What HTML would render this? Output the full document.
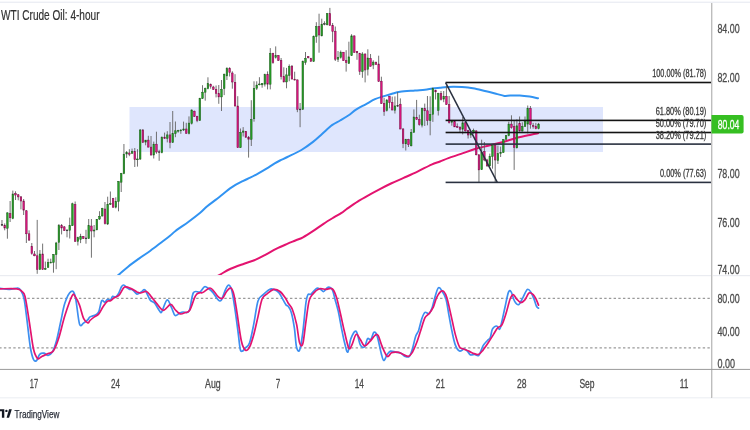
<!DOCTYPE html><html><head><meta charset="utf-8"><style>html,body{margin:0;padding:0;background:#fff;width:750px;height:430px;overflow:hidden}svg{display:block;will-change:transform}text{font-family:"Liberation Sans",sans-serif}</style></head><body>
<svg width="750" height="430" viewBox="0 0 750 430">
<rect width="750" height="430" fill="#fff"/>
<defs><clipPath id="cm"><rect x="0" y="3" width="711" height="272"/></clipPath><clipPath id="cs"><rect x="0" y="276" width="711" height="93"/></clipPath></defs>
<rect x="0" y="1.6" width="750" height="1.4" fill="#eceef4"/>
<rect x="0" y="275.1" width="750" height="1.1" fill="#e8eaf0"/>
<rect x="0" y="397.2" width="750" height="1.2" fill="#eef0f4"/>
<rect x="129.5" y="107" width="473.5" height="45" fill="#dfe6fd"/>
<line x1="-0.8" y1="298.4" x2="711" y2="298.4" stroke="#9a9a9a" stroke-width="1.1" stroke-dasharray="2.4 2.29"/>
<line x1="-0.8" y1="347.9" x2="711" y2="347.9" stroke="#9a9a9a" stroke-width="1.1" stroke-dasharray="2.4 2.29"/>
<g clip-path="url(#cm)">
<path d="M110 282 C111.4 280.85 115.38 277.65 118.4 275.1 C121.42 272.55 124.62 269.48 128.1 266.7 C131.58 263.92 135.58 261.07 139.3 258.4 C143.02 255.73 146.68 253.4 150.4 250.7 C154.12 248 158.33 244.68 161.6 242.2 C164.87 239.72 167.68 237.67 170 235.8 C172.32 233.93 172.4 233.35 175.5 231 C178.6 228.65 184.53 224.7 188.6 221.7 C192.67 218.7 196.85 215.53 199.9 213 C202.95 210.47 204.28 208.68 206.9 206.5 C209.52 204.32 213.42 201.57 215.6 199.9 C217.78 198.23 217.33 198.58 220 196.5 C222.67 194.42 227.72 190.02 231.6 187.4 C235.48 184.78 240.2 182.42 243.3 180.8 C246.4 179.18 247.68 178.95 250.2 177.7 C252.72 176.45 255.68 174.82 258.4 173.3 C261.12 171.78 263.78 170.25 266.5 168.6 C269.22 166.95 272.45 164.75 274.7 163.4 C276.95 162.05 277.88 161.57 280 160.5 C282.12 159.43 283.83 158.75 287.4 157 C290.97 155.25 297.13 152.52 301.4 150 C305.67 147.48 309.52 144.62 313 141.9 C316.48 139.18 319.13 136.5 322.3 133.7 C325.47 130.9 329.03 127.3 332 125.1 C334.97 122.9 337.38 122.1 340.1 120.5 C342.82 118.9 345.58 117.35 348.3 115.5 C351.02 113.65 353.5 111.27 356.4 109.4 C359.3 107.53 362.6 106 365.7 104.3 C368.8 102.6 371.78 100.6 375 99.2 C378.22 97.8 382.17 96.8 385 95.9 C387.83 95 389.5 94.48 392 93.8 C394.5 93.12 396.17 92.35 400 91.8 C403.83 91.25 410.83 90.85 415 90.5 C419.17 90.15 422.1 90.02 425 89.7 C427.9 89.38 429.9 88.92 432.4 88.6 C434.9 88.28 437.57 88.05 440 87.8 C442.43 87.55 444.67 87.27 447 87.1 C449.33 86.93 450.5 86.75 454 86.8 C457.5 86.85 464.27 87.05 468 87.4 C471.73 87.75 473.37 88.25 476.4 88.9 C479.43 89.55 482.93 90.5 486.2 91.3 C489.47 92.1 492.97 92.93 496 93.7 C499.03 94.47 502.07 95.58 504.4 95.9 C506.73 96.22 507.43 95.67 510 95.6 C512.57 95.53 516.53 95.33 519.8 95.5 C523.07 95.67 526.57 96.13 529.6 96.6 C532.63 97.07 536.6 98.02 538 98.3" stroke="#3193f2" stroke-width="2.0" fill="none" stroke-linejoin="round" stroke-linecap="round"/>
<path d="M210 280 C211.62 279.13 216.35 276.63 219.7 274.8 C223.05 272.97 226.03 270.85 230.1 269 C234.17 267.15 239.83 265.25 244.1 263.7 C248.37 262.15 252.02 261.25 255.7 259.7 C259.38 258.15 262.72 256.25 266.2 254.4 C269.68 252.55 273.02 250.38 276.6 248.6 C280.18 246.82 284.57 245.05 287.7 243.7 C290.83 242.35 292.85 241.57 295.4 240.5 C297.95 239.43 300.02 238.9 303 237.3 C305.98 235.7 309.88 233.15 313.3 230.9 C316.72 228.65 320.08 226.05 323.5 223.8 C326.92 221.55 330.8 219.22 333.8 217.4 C336.8 215.58 339.4 214.25 341.5 212.9 C343.6 211.55 343.72 211.18 346.4 209.3 C349.08 207.42 353.65 204.08 357.6 201.6 C361.55 199.12 366.38 196.48 370.1 194.4 C373.82 192.32 376.42 190.92 379.9 189.1 C383.38 187.28 387.05 185.37 391 183.5 C394.95 181.63 399.18 179.88 403.6 177.9 C408.02 175.92 412.85 173.82 417.5 171.6 C422.15 169.38 427.75 166.28 431.5 164.6 C435.25 162.92 437.18 162.58 440 161.5 C442.82 160.42 444.9 159.37 448.4 158.1 C451.9 156.83 456.57 155.42 461 153.9 C465.43 152.38 470.33 150.4 475 149 C479.67 147.6 484.33 146.67 489 145.5 C493.67 144.33 498.33 143.28 503 142 C507.67 140.72 512.33 139.02 517 137.8 C521.67 136.58 527.5 135.45 531 134.7 C534.5 133.95 536.83 133.53 538 133.3" stroke="#e3136f" stroke-width="2.0" fill="none" stroke-linejoin="round" stroke-linecap="round"/>
<path d="M1.98 220V226.1M4.69 223.4V230.3M7.4 212.2V238.7M10.11 201V222M12.82 190.6V219.2M15.53 191.3V200M18.24 194V200.3M20.95 196V209.4M23.66 199V215M26.37 210V243M29.08 230.3V240.8M31.79 243V254.7M34.5 251V256.2M37.21 219.9V273.8M39.92 250V269.8M42.63 243.6V269.8M45.34 261.6V269.8M48.05 258.7V267.8M50.76 258.7V263.4M53.47 254V272.7M56.18 241.9V269.2M58.89 224V250M61.6 224V234.4M64.31 226V231M67.02 229.5V237.3M69.73 217.6V238.5M72.44 202.7V226M75.15 201.5V241.8M77.86 236.7V245.5M80.57 233.8V243.1M83.28 236V239M85.99 229.8V243.7M88.7 219V239M91.41 219V257.7M94.12 225V237.3M96.83 219V230.3M99.54 211.2V220M102.25 207.8V216.5M104.96 202V224.5M107.67 196.7V225M110.38 191.5V205M113.09 197.9V207.8M115.8 197.3V208.4M118.51 181V211.3M121.22 172.9V192M123.93 144V174.2M126.64 151V157.9M129.35 149.2V156.2M132.06 148.6V153.8M134.77 148V167M137.48 149.2V166.6M140.19 129V160M142.9 129V143M145.61 140V145.3M148.32 135.8V147.4M151.03 136V155.6M153.74 141.6V158.5M156.45 131.7V153.8M159.16 149.8V160.8M161.87 136.4V153.3M164.58 132.6V139M167.29 131.2V142.4M170 122V148.3M172.71 111V143M175.42 121.5V137.2M178.13 129.8V132.7M180.84 129.2V133.8M183.55 121.6V131M186.26 122.8V133.8M188.97 116.4V134.4M191.68 109.4V124.5M194.39 110.6V117M197.1 115.8V122.2M199.81 97.8V121M202.52 85.2V99M205.23 87.6V100.7M207.94 77.3V89.3M210.65 83.5V88.7M213.36 85.8V90M216.07 85.5V97.4M218.78 85V103.8M221.49 80V111M224.2 73.6V95.1M226.91 67.2V80M229.62 67.2V76.5M232.33 71.3V88.7M235.04 74.2V106.5M237.75 96.2V148M240.46 128.5V148M243.17 127.1V136.5M245.88 131V138M248.59 136V157.6M251.3 100.2V146M254.01 81.3V121.7M256.72 81.3V90M259.43 77.2V85.3M262.14 83V87.7M264.85 73.7V86.5M267.56 71.4V89.4M270.27 48.1V89.4M272.98 52.8V63.8M275.69 46.4V58.6M278.4 55V61M281.11 58V79.5M283.82 67.3V82.4M286.53 67.9V88.3M289.24 64.4V81.3M291.95 65V79.5M294.66 71.7V80.5M297.37 79.5V112.2M300.08 103V127.2M302.79 60.5V110M305.5 52V64.8M308.21 56V58.4M310.92 57.8V61.8M313.63 35.5V62M316.34 22.2V42.8M319.05 13.7V52.7M321.76 18.7V36.4M324.47 21.3V25.3M327.18 13.1V25.3M329.89 7.9V25.9M332.6 23V42.2M335.31 26.5V61M338.02 51V62M340.73 50.5V58.6M343.44 52V61M346.15 50.2V71.6M348.86 41.7V63.8M351.57 34.2V56M354.28 35.5V52.8M356.99 51V59.8M359.7 52.8V74.9M362.41 52.2V77.8M365.12 53.4V82.4M367.83 49.3V75.5M370.54 54V66.7M373.25 60.3V69.2M375.96 61.5V65M378.67 55.7V82M381.38 76.7V104M384.09 97.8V115.8M386.8 99V111.5M389.51 96V108.3M392.22 96.6V110.3M394.93 96.4V113.5M397.64 92V107M400.35 98.4V129.2M403.06 128V148.1M405.77 138.8V150.5M408.48 138.8V147M411.19 129V146.4M413.9 109.4V132.7M416.61 99.9V119.9M419.32 114.7V125.7M422.03 107.7V127.4M424.74 103.6V126M427.45 96V125.3M430.16 96.3V135.3M432.87 87.6V121.9M435.58 89.7V99.5M438.29 92.8V115.5M441 91V100.5M443.71 91V102.2M446.42 85.5V105M449.13 96V123.6M451.84 120.5V125.7M454.55 120.1V127M457.26 123.4V128M459.97 126.3V132.7M462.68 117V134.4M465.39 121V131.5M468.1 129.8V138.5M470.81 131V137.9M473.52 128.6V133.8M476.23 130.3V155.3M478.94 154.2V182.1M481.65 139.7V170M484.36 142V161.2M487.07 158.8V167M489.78 153.6V166.4M492.49 144.3V168.7M495.2 144.9V182.7M497.91 145.5V164M500.62 146.6V157M503.33 139V153M506.04 135.1V140.3M508.75 121.7V136.3M511.46 115.3V128.7M514.17 120V169.9M516.88 119.4V147M519.59 116.5V131.6M522.3 122.3V131.6M525.01 116.5V127M527.72 105.5V133.4M530.43 106V128.7M533.14 122.9V128.7M535.85 122.9V129.3M538.56 122.9V129.3" stroke="#626262" stroke-width="0.9" fill="none"/>
<rect x="1.18" y="224.4" width="1.6" height="0.8" fill="#555" stroke="#333" stroke-width="0.5"/>
<rect x="3.89" y="225.2" width="1.6" height="2.8" fill="#de1580" stroke="#7a1048" stroke-width="0.5"/>
<rect x="6.6" y="212.9" width="1.6" height="15.3" fill="#26a226" stroke="#1d5e1d" stroke-width="0.5"/>
<rect x="9.31" y="213.6" width="1.6" height="4.2" fill="#de1580" stroke="#7a1048" stroke-width="0.5"/>
<rect x="12.02" y="194" width="1.6" height="24.5" fill="#26a226" stroke="#1d5e1d" stroke-width="0.5"/>
<rect x="14.73" y="193.6" width="1.6" height="1.4" fill="#de1580" stroke="#7a1048" stroke-width="0.5"/>
<rect x="17.44" y="194.8" width="1.6" height="2.1" fill="#de1580" stroke="#7a1048" stroke-width="0.5"/>
<rect x="20.15" y="196.9" width="1.6" height="4.1" fill="#de1580" stroke="#7a1048" stroke-width="0.5"/>
<rect x="22.86" y="201" width="1.6" height="9.1" fill="#de1580" stroke="#7a1048" stroke-width="0.5"/>
<rect x="25.57" y="210.8" width="1.6" height="23" fill="#de1580" stroke="#7a1048" stroke-width="0.5"/>
<rect x="28.28" y="233.8" width="1.6" height="6.3" fill="#de1580" stroke="#7a1048" stroke-width="0.5"/>
<rect x="30.99" y="246.3" width="1.6" height="7.2" fill="#de1580" stroke="#7a1048" stroke-width="0.5"/>
<rect x="33.7" y="254" width="1.6" height="1.8" fill="#de1580" stroke="#7a1048" stroke-width="0.5"/>
<rect x="36.41" y="255.8" width="1.6" height="13.7" fill="#de1580" stroke="#7a1048" stroke-width="0.5"/>
<rect x="39.12" y="254" width="1.6" height="15.5" fill="#26a226" stroke="#1d5e1d" stroke-width="0.5"/>
<rect x="41.83" y="254" width="1.6" height="15.5" fill="#de1580" stroke="#7a1048" stroke-width="0.5"/>
<rect x="44.54" y="268.3" width="1.6" height="1.1" fill="#26a226" stroke="#1d5e1d" stroke-width="0.5"/>
<rect x="47.25" y="262.4" width="1.6" height="5" fill="#26a226" stroke="#1d5e1d" stroke-width="0.5"/>
<rect x="49.96" y="262.1" width="1.6" height="0.8" fill="#26a226" stroke="#1d5e1d" stroke-width="0.5"/>
<rect x="52.67" y="254.7" width="1.6" height="7.7" fill="#26a226" stroke="#1d5e1d" stroke-width="0.5"/>
<rect x="55.38" y="243" width="1.6" height="11.7" fill="#26a226" stroke="#1d5e1d" stroke-width="0.5"/>
<rect x="58.09" y="225.5" width="1.6" height="16.9" fill="#26a226" stroke="#1d5e1d" stroke-width="0.5"/>
<rect x="60.8" y="225.7" width="1.6" height="2.3" fill="#de1580" stroke="#7a1048" stroke-width="0.5"/>
<rect x="63.51" y="226.9" width="1.6" height="3.8" fill="#de1580" stroke="#7a1048" stroke-width="0.5"/>
<rect x="66.22" y="230" width="1.6" height="0.8" fill="#555" stroke="#333" stroke-width="0.5"/>
<rect x="68.93" y="225.7" width="1.6" height="4.6" fill="#26a226" stroke="#1d5e1d" stroke-width="0.5"/>
<rect x="71.64" y="203.8" width="1.6" height="21.9" fill="#26a226" stroke="#1d5e1d" stroke-width="0.5"/>
<rect x="74.35" y="204.4" width="1.6" height="37" fill="#de1580" stroke="#7a1048" stroke-width="0.5"/>
<rect x="77.06" y="237.7" width="1.6" height="3.7" fill="#26a226" stroke="#1d5e1d" stroke-width="0.5"/>
<rect x="79.77" y="236.7" width="1.6" height="2.6" fill="#26a226" stroke="#1d5e1d" stroke-width="0.5"/>
<rect x="82.48" y="236.5" width="1.6" height="2" fill="#de1580" stroke="#7a1048" stroke-width="0.5"/>
<rect x="85.19" y="238" width="1.6" height="0.8" fill="#555" stroke="#333" stroke-width="0.5"/>
<rect x="87.9" y="225.7" width="1.6" height="12.8" fill="#26a226" stroke="#1d5e1d" stroke-width="0.5"/>
<rect x="90.61" y="226" width="1.6" height="5" fill="#de1580" stroke="#7a1048" stroke-width="0.5"/>
<rect x="93.32" y="230" width="1.6" height="1" fill="#26a226" stroke="#1d5e1d" stroke-width="0.5"/>
<rect x="96.03" y="219.3" width="1.6" height="10.5" fill="#26a226" stroke="#1d5e1d" stroke-width="0.5"/>
<rect x="98.74" y="216.4" width="1.6" height="2.6" fill="#26a226" stroke="#1d5e1d" stroke-width="0.5"/>
<rect x="101.45" y="208.4" width="1.6" height="7.6" fill="#26a226" stroke="#1d5e1d" stroke-width="0.5"/>
<rect x="104.16" y="209" width="1.6" height="14.7" fill="#de1580" stroke="#7a1048" stroke-width="0.5"/>
<rect x="106.87" y="204.3" width="1.6" height="19.7" fill="#26a226" stroke="#1d5e1d" stroke-width="0.5"/>
<rect x="109.58" y="203.6" width="1.6" height="0.8" fill="#26a226" stroke="#1d5e1d" stroke-width="0.5"/>
<rect x="112.29" y="198.5" width="1.6" height="8.7" fill="#de1580" stroke="#7a1048" stroke-width="0.5"/>
<rect x="115" y="201.4" width="1.6" height="5.8" fill="#26a226" stroke="#1d5e1d" stroke-width="0.5"/>
<rect x="117.71" y="181.6" width="1.6" height="19.8" fill="#26a226" stroke="#1d5e1d" stroke-width="0.5"/>
<rect x="120.42" y="173.5" width="1.6" height="8.7" fill="#26a226" stroke="#1d5e1d" stroke-width="0.5"/>
<rect x="123.13" y="154.2" width="1.6" height="19.4" fill="#26a226" stroke="#1d5e1d" stroke-width="0.5"/>
<rect x="125.84" y="152.7" width="1.6" height="1.3" fill="#26a226" stroke="#1d5e1d" stroke-width="0.5"/>
<rect x="128.55" y="153" width="1.6" height="1.2" fill="#de1580" stroke="#7a1048" stroke-width="0.5"/>
<rect x="131.26" y="151.5" width="1.6" height="1.8" fill="#26a226" stroke="#1d5e1d" stroke-width="0.5"/>
<rect x="133.97" y="151.5" width="1.6" height="8.2" fill="#de1580" stroke="#7a1048" stroke-width="0.5"/>
<rect x="136.68" y="158.95" width="1.6" height="0.8" fill="#26a226" stroke="#1d5e1d" stroke-width="0.5"/>
<rect x="139.39" y="130" width="1.6" height="29" fill="#26a226" stroke="#1d5e1d" stroke-width="0.5"/>
<rect x="142.1" y="130" width="1.6" height="12.4" fill="#de1580" stroke="#7a1048" stroke-width="0.5"/>
<rect x="144.81" y="140.1" width="1.6" height="2" fill="#26a226" stroke="#1d5e1d" stroke-width="0.5"/>
<rect x="147.52" y="140.1" width="1.6" height="7" fill="#de1580" stroke="#7a1048" stroke-width="0.5"/>
<rect x="150.23" y="147.1" width="1.6" height="7.9" fill="#de1580" stroke="#7a1048" stroke-width="0.5"/>
<rect x="152.94" y="144.2" width="1.6" height="10.8" fill="#26a226" stroke="#1d5e1d" stroke-width="0.5"/>
<rect x="155.65" y="144.2" width="1.6" height="7.8" fill="#de1580" stroke="#7a1048" stroke-width="0.5"/>
<rect x="158.36" y="151.75" width="1.6" height="0.8" fill="#555" stroke="#333" stroke-width="0.5"/>
<rect x="161.07" y="137.2" width="1.6" height="15.5" fill="#26a226" stroke="#1d5e1d" stroke-width="0.5"/>
<rect x="163.78" y="137.2" width="1.6" height="1.2" fill="#de1580" stroke="#7a1048" stroke-width="0.5"/>
<rect x="166.49" y="134.9" width="1.6" height="3.5" fill="#26a226" stroke="#1d5e1d" stroke-width="0.5"/>
<rect x="169.2" y="134.9" width="1.6" height="7.5" fill="#de1580" stroke="#7a1048" stroke-width="0.5"/>
<rect x="171.91" y="133.7" width="1.6" height="8.7" fill="#26a226" stroke="#1d5e1d" stroke-width="0.5"/>
<rect x="174.62" y="130.8" width="1.6" height="2.9" fill="#26a226" stroke="#1d5e1d" stroke-width="0.5"/>
<rect x="177.33" y="130.4" width="1.6" height="0.8" fill="#26a226" stroke="#1d5e1d" stroke-width="0.5"/>
<rect x="180.04" y="130.05" width="1.6" height="0.8" fill="#26a226" stroke="#1d5e1d" stroke-width="0.5"/>
<rect x="182.75" y="129" width="1.6" height="1" fill="#26a226" stroke="#1d5e1d" stroke-width="0.5"/>
<rect x="185.46" y="129" width="1.6" height="4.3" fill="#de1580" stroke="#7a1048" stroke-width="0.5"/>
<rect x="188.17" y="123.1" width="1.6" height="10.2" fill="#26a226" stroke="#1d5e1d" stroke-width="0.5"/>
<rect x="190.88" y="110" width="1.6" height="13.4" fill="#26a226" stroke="#1d5e1d" stroke-width="0.5"/>
<rect x="193.59" y="111.2" width="1.6" height="5.2" fill="#de1580" stroke="#7a1048" stroke-width="0.5"/>
<rect x="196.3" y="116.4" width="1.6" height="4.1" fill="#de1580" stroke="#7a1048" stroke-width="0.5"/>
<rect x="199.01" y="98.4" width="1.6" height="22.1" fill="#26a226" stroke="#1d5e1d" stroke-width="0.5"/>
<rect x="201.72" y="92.2" width="1.6" height="6.2" fill="#26a226" stroke="#1d5e1d" stroke-width="0.5"/>
<rect x="204.43" y="88.5" width="1.6" height="3.7" fill="#26a226" stroke="#1d5e1d" stroke-width="0.5"/>
<rect x="207.14" y="83.5" width="1.6" height="5.2" fill="#26a226" stroke="#1d5e1d" stroke-width="0.5"/>
<rect x="209.85" y="84.3" width="1.6" height="2.1" fill="#de1580" stroke="#7a1048" stroke-width="0.5"/>
<rect x="212.56" y="87" width="1.6" height="2.3" fill="#de1580" stroke="#7a1048" stroke-width="0.5"/>
<rect x="215.27" y="89.3" width="1.6" height="4.1" fill="#de1580" stroke="#7a1048" stroke-width="0.5"/>
<rect x="217.98" y="93.4" width="1.6" height="3.5" fill="#de1580" stroke="#7a1048" stroke-width="0.5"/>
<rect x="220.69" y="89.3" width="1.6" height="7.6" fill="#26a226" stroke="#1d5e1d" stroke-width="0.5"/>
<rect x="223.4" y="74.2" width="1.6" height="14.5" fill="#26a226" stroke="#1d5e1d" stroke-width="0.5"/>
<rect x="226.11" y="68.4" width="1.6" height="7.5" fill="#26a226" stroke="#1d5e1d" stroke-width="0.5"/>
<rect x="228.82" y="68.4" width="1.6" height="4" fill="#de1580" stroke="#7a1048" stroke-width="0.5"/>
<rect x="231.53" y="73" width="1.6" height="9" fill="#de1580" stroke="#7a1048" stroke-width="0.5"/>
<rect x="234.24" y="82.3" width="1.6" height="23.7" fill="#de1580" stroke="#7a1048" stroke-width="0.5"/>
<rect x="236.95" y="106" width="1.6" height="41.7" fill="#de1580" stroke="#7a1048" stroke-width="0.5"/>
<rect x="239.66" y="132.6" width="1.6" height="15.1" fill="#26a226" stroke="#1d5e1d" stroke-width="0.5"/>
<rect x="242.37" y="131" width="1.6" height="1.2" fill="#26a226" stroke="#1d5e1d" stroke-width="0.5"/>
<rect x="245.08" y="131.3" width="1.6" height="5.9" fill="#de1580" stroke="#7a1048" stroke-width="0.5"/>
<rect x="247.79" y="137.2" width="1.6" height="2" fill="#de1580" stroke="#7a1048" stroke-width="0.5"/>
<rect x="250.5" y="119.4" width="1.6" height="19.9" fill="#26a226" stroke="#1d5e1d" stroke-width="0.5"/>
<rect x="253.21" y="88.3" width="1.6" height="30.5" fill="#26a226" stroke="#1d5e1d" stroke-width="0.5"/>
<rect x="255.92" y="85.1" width="1.6" height="3.2" fill="#26a226" stroke="#1d5e1d" stroke-width="0.5"/>
<rect x="258.63" y="84" width="1.6" height="0.8" fill="#26a226" stroke="#1d5e1d" stroke-width="0.5"/>
<rect x="261.34" y="83.6" width="1.6" height="1.2" fill="#26a226" stroke="#1d5e1d" stroke-width="0.5"/>
<rect x="264.05" y="74.7" width="1.6" height="9.5" fill="#26a226" stroke="#1d5e1d" stroke-width="0.5"/>
<rect x="266.76" y="74.3" width="1.6" height="9.9" fill="#de1580" stroke="#7a1048" stroke-width="0.5"/>
<rect x="269.47" y="53.4" width="1.6" height="30.8" fill="#26a226" stroke="#1d5e1d" stroke-width="0.5"/>
<rect x="272.18" y="53.4" width="1.6" height="9.3" fill="#de1580" stroke="#7a1048" stroke-width="0.5"/>
<rect x="274.89" y="55.7" width="1.6" height="1.7" fill="#26a226" stroke="#1d5e1d" stroke-width="0.5"/>
<rect x="277.6" y="55.7" width="1.6" height="4.6" fill="#de1580" stroke="#7a1048" stroke-width="0.5"/>
<rect x="280.31" y="60.3" width="1.6" height="16.3" fill="#de1580" stroke="#7a1048" stroke-width="0.5"/>
<rect x="283.02" y="76.6" width="1.6" height="5.3" fill="#de1580" stroke="#7a1048" stroke-width="0.5"/>
<rect x="285.73" y="74.9" width="1.6" height="7" fill="#26a226" stroke="#1d5e1d" stroke-width="0.5"/>
<rect x="288.44" y="66.5" width="1.6" height="9" fill="#26a226" stroke="#1d5e1d" stroke-width="0.5"/>
<rect x="291.15" y="66.2" width="1.6" height="12.8" fill="#de1580" stroke="#7a1048" stroke-width="0.5"/>
<rect x="293.86" y="79.2" width="1.6" height="0.8" fill="#de1580" stroke="#7a1048" stroke-width="0.5"/>
<rect x="296.57" y="79.9" width="1.6" height="29.4" fill="#de1580" stroke="#7a1048" stroke-width="0.5"/>
<rect x="299.28" y="109.05" width="1.6" height="0.8" fill="#555" stroke="#333" stroke-width="0.5"/>
<rect x="301.99" y="61.3" width="1.6" height="48" fill="#26a226" stroke="#1d5e1d" stroke-width="0.5"/>
<rect x="304.7" y="58.4" width="1.6" height="4" fill="#26a226" stroke="#1d5e1d" stroke-width="0.5"/>
<rect x="307.41" y="56.6" width="1.6" height="1.2" fill="#de1580" stroke="#7a1048" stroke-width="0.5"/>
<rect x="310.12" y="58.4" width="1.6" height="2.9" fill="#de1580" stroke="#7a1048" stroke-width="0.5"/>
<rect x="312.83" y="36.6" width="1.6" height="24.7" fill="#26a226" stroke="#1d5e1d" stroke-width="0.5"/>
<rect x="315.54" y="26.5" width="1.6" height="10.1" fill="#26a226" stroke="#1d5e1d" stroke-width="0.5"/>
<rect x="318.25" y="26.5" width="1.6" height="8.5" fill="#de1580" stroke="#7a1048" stroke-width="0.5"/>
<rect x="320.96" y="24.2" width="1.6" height="11.6" fill="#26a226" stroke="#1d5e1d" stroke-width="0.5"/>
<rect x="323.67" y="23.7" width="1.6" height="0.8" fill="#555" stroke="#333" stroke-width="0.5"/>
<rect x="326.38" y="13.7" width="1.6" height="11.1" fill="#26a226" stroke="#1d5e1d" stroke-width="0.5"/>
<rect x="329.09" y="13.7" width="1.6" height="11.6" fill="#de1580" stroke="#7a1048" stroke-width="0.5"/>
<rect x="331.8" y="25.3" width="1.6" height="6.2" fill="#de1580" stroke="#7a1048" stroke-width="0.5"/>
<rect x="334.51" y="31.2" width="1.6" height="28" fill="#de1580" stroke="#7a1048" stroke-width="0.5"/>
<rect x="337.22" y="57.4" width="1.6" height="1.8" fill="#26a226" stroke="#1d5e1d" stroke-width="0.5"/>
<rect x="339.93" y="52.2" width="1.6" height="5.2" fill="#26a226" stroke="#1d5e1d" stroke-width="0.5"/>
<rect x="342.64" y="52.2" width="1.6" height="8.5" fill="#de1580" stroke="#7a1048" stroke-width="0.5"/>
<rect x="345.35" y="60.7" width="1.6" height="2" fill="#de1580" stroke="#7a1048" stroke-width="0.5"/>
<rect x="348.06" y="56.9" width="1.6" height="6.6" fill="#26a226" stroke="#1d5e1d" stroke-width="0.5"/>
<rect x="350.77" y="35.9" width="1.6" height="19.8" fill="#26a226" stroke="#1d5e1d" stroke-width="0.5"/>
<rect x="353.48" y="35.9" width="1.6" height="16.5" fill="#de1580" stroke="#7a1048" stroke-width="0.5"/>
<rect x="356.19" y="51.4" width="1.6" height="1.4" fill="#de1580" stroke="#7a1048" stroke-width="0.5"/>
<rect x="358.9" y="53.4" width="1.6" height="18.2" fill="#de1580" stroke="#7a1048" stroke-width="0.5"/>
<rect x="361.61" y="54" width="1.6" height="17.6" fill="#26a226" stroke="#1d5e1d" stroke-width="0.5"/>
<rect x="364.32" y="54" width="1.6" height="16" fill="#de1580" stroke="#7a1048" stroke-width="0.5"/>
<rect x="367.03" y="58" width="1.6" height="11.3" fill="#26a226" stroke="#1d5e1d" stroke-width="0.5"/>
<rect x="369.74" y="58.6" width="1.6" height="7.6" fill="#de1580" stroke="#7a1048" stroke-width="0.5"/>
<rect x="372.45" y="62.1" width="1.6" height="2.9" fill="#26a226" stroke="#1d5e1d" stroke-width="0.5"/>
<rect x="375.16" y="62.4" width="1.6" height="2" fill="#de1580" stroke="#7a1048" stroke-width="0.5"/>
<rect x="377.87" y="64" width="1.6" height="17.4" fill="#de1580" stroke="#7a1048" stroke-width="0.5"/>
<rect x="380.58" y="81.2" width="1.6" height="22.2" fill="#de1580" stroke="#7a1048" stroke-width="0.5"/>
<rect x="383.29" y="103.4" width="1.6" height="8.1" fill="#de1580" stroke="#7a1048" stroke-width="0.5"/>
<rect x="386" y="100.1" width="1.6" height="10.5" fill="#26a226" stroke="#1d5e1d" stroke-width="0.5"/>
<rect x="388.71" y="96.4" width="1.6" height="6" fill="#de1580" stroke="#7a1048" stroke-width="0.5"/>
<rect x="391.42" y="102.4" width="1.6" height="7.6" fill="#de1580" stroke="#7a1048" stroke-width="0.5"/>
<rect x="394.13" y="105.9" width="1.6" height="4.4" fill="#26a226" stroke="#1d5e1d" stroke-width="0.5"/>
<rect x="396.84" y="105.4" width="1.6" height="0.8" fill="#555" stroke="#333" stroke-width="0.5"/>
<rect x="399.55" y="104.2" width="1.6" height="24.8" fill="#de1580" stroke="#7a1048" stroke-width="0.5"/>
<rect x="402.26" y="129" width="1.6" height="14.5" fill="#de1580" stroke="#7a1048" stroke-width="0.5"/>
<rect x="404.97" y="139.4" width="1.6" height="4.4" fill="#26a226" stroke="#1d5e1d" stroke-width="0.5"/>
<rect x="407.68" y="139.4" width="1.6" height="5.3" fill="#de1580" stroke="#7a1048" stroke-width="0.5"/>
<rect x="410.39" y="132.4" width="1.6" height="13.4" fill="#26a226" stroke="#1d5e1d" stroke-width="0.5"/>
<rect x="413.1" y="117" width="1.6" height="15.4" fill="#26a226" stroke="#1d5e1d" stroke-width="0.5"/>
<rect x="415.81" y="117.3" width="1.6" height="2" fill="#de1580" stroke="#7a1048" stroke-width="0.5"/>
<rect x="418.52" y="119.3" width="1.6" height="5.2" fill="#de1580" stroke="#7a1048" stroke-width="0.5"/>
<rect x="421.23" y="108.3" width="1.6" height="16.8" fill="#26a226" stroke="#1d5e1d" stroke-width="0.5"/>
<rect x="423.94" y="108.5" width="1.6" height="2.3" fill="#de1580" stroke="#7a1048" stroke-width="0.5"/>
<rect x="426.65" y="110.8" width="1.6" height="9.9" fill="#de1580" stroke="#7a1048" stroke-width="0.5"/>
<rect x="429.36" y="114.3" width="1.6" height="6.4" fill="#26a226" stroke="#1d5e1d" stroke-width="0.5"/>
<rect x="432.07" y="88.7" width="1.6" height="25.6" fill="#26a226" stroke="#1d5e1d" stroke-width="0.5"/>
<rect x="434.78" y="90.5" width="1.6" height="1.3" fill="#de1580" stroke="#7a1048" stroke-width="0.5"/>
<rect x="437.49" y="93.5" width="1.6" height="17.1" fill="#26a226" stroke="#1d5e1d" stroke-width="0.5"/>
<rect x="440.2" y="93.5" width="1.6" height="5.9" fill="#de1580" stroke="#7a1048" stroke-width="0.5"/>
<rect x="442.91" y="96.3" width="1.6" height="2.8" fill="#26a226" stroke="#1d5e1d" stroke-width="0.5"/>
<rect x="445.62" y="96.3" width="1.6" height="8" fill="#de1580" stroke="#7a1048" stroke-width="0.5"/>
<rect x="448.33" y="104.7" width="1.6" height="17.9" fill="#de1580" stroke="#7a1048" stroke-width="0.5"/>
<rect x="451.04" y="121" width="1.6" height="1.2" fill="#26a226" stroke="#1d5e1d" stroke-width="0.5"/>
<rect x="453.75" y="121.6" width="1.6" height="5.3" fill="#de1580" stroke="#7a1048" stroke-width="0.5"/>
<rect x="456.46" y="126.3" width="1.6" height="1.1" fill="#de1580" stroke="#7a1048" stroke-width="0.5"/>
<rect x="459.17" y="127.2" width="1.6" height="2" fill="#de1580" stroke="#7a1048" stroke-width="0.5"/>
<rect x="461.88" y="122.8" width="1.6" height="6.4" fill="#26a226" stroke="#1d5e1d" stroke-width="0.5"/>
<rect x="464.59" y="122.8" width="1.6" height="8.1" fill="#de1580" stroke="#7a1048" stroke-width="0.5"/>
<rect x="467.3" y="130.7" width="1.6" height="4.3" fill="#de1580" stroke="#7a1048" stroke-width="0.5"/>
<rect x="470.01" y="133.3" width="1.6" height="1.7" fill="#26a226" stroke="#1d5e1d" stroke-width="0.5"/>
<rect x="472.72" y="130.3" width="1.6" height="2.4" fill="#26a226" stroke="#1d5e1d" stroke-width="0.5"/>
<rect x="475.43" y="130.9" width="1.6" height="23.9" fill="#de1580" stroke="#7a1048" stroke-width="0.5"/>
<rect x="478.14" y="154.8" width="1.6" height="15.1" fill="#de1580" stroke="#7a1048" stroke-width="0.5"/>
<rect x="480.85" y="152.4" width="1.6" height="17.3" fill="#26a226" stroke="#1d5e1d" stroke-width="0.5"/>
<rect x="483.56" y="151.3" width="1.6" height="8.7" fill="#de1580" stroke="#7a1048" stroke-width="0.5"/>
<rect x="486.27" y="160" width="1.6" height="5.8" fill="#de1580" stroke="#7a1048" stroke-width="0.5"/>
<rect x="488.98" y="156.5" width="1.6" height="9.3" fill="#26a226" stroke="#1d5e1d" stroke-width="0.5"/>
<rect x="491.69" y="145.5" width="1.6" height="11" fill="#26a226" stroke="#1d5e1d" stroke-width="0.5"/>
<rect x="494.4" y="145.5" width="1.6" height="14.5" fill="#de1580" stroke="#7a1048" stroke-width="0.5"/>
<rect x="497.11" y="153.6" width="1.6" height="7" fill="#26a226" stroke="#1d5e1d" stroke-width="0.5"/>
<rect x="499.82" y="152.4" width="1.6" height="1.2" fill="#26a226" stroke="#1d5e1d" stroke-width="0.5"/>
<rect x="502.53" y="139.7" width="1.6" height="12.7" fill="#26a226" stroke="#1d5e1d" stroke-width="0.5"/>
<rect x="505.24" y="135.7" width="1.6" height="3.5" fill="#26a226" stroke="#1d5e1d" stroke-width="0.5"/>
<rect x="507.95" y="124.1" width="1.6" height="11.6" fill="#26a226" stroke="#1d5e1d" stroke-width="0.5"/>
<rect x="510.66" y="124.1" width="1.6" height="3.5" fill="#de1580" stroke="#7a1048" stroke-width="0.5"/>
<rect x="513.37" y="126.4" width="1.6" height="21.1" fill="#de1580" stroke="#7a1048" stroke-width="0.5"/>
<rect x="516.08" y="125.8" width="1.6" height="22.2" fill="#26a226" stroke="#1d5e1d" stroke-width="0.5"/>
<rect x="518.79" y="123.5" width="1.6" height="7.5" fill="#de1580" stroke="#7a1048" stroke-width="0.5"/>
<rect x="521.5" y="126.4" width="1.6" height="4.6" fill="#26a226" stroke="#1d5e1d" stroke-width="0.5"/>
<rect x="524.21" y="121.2" width="1.6" height="5.2" fill="#26a226" stroke="#1d5e1d" stroke-width="0.5"/>
<rect x="526.92" y="108.4" width="1.6" height="15.7" fill="#26a226" stroke="#1d5e1d" stroke-width="0.5"/>
<rect x="529.63" y="108.4" width="1.6" height="16.3" fill="#de1580" stroke="#7a1048" stroke-width="0.5"/>
<rect x="532.34" y="125.7" width="1.6" height="0.8" fill="#de1580" stroke="#7a1048" stroke-width="0.5"/>
<rect x="535.05" y="126.4" width="1.6" height="2.3" fill="#de1580" stroke="#7a1048" stroke-width="0.5"/>
<rect x="537.76" y="124.1" width="1.6" height="4.6" fill="#26a226" stroke="#1d5e1d" stroke-width="0.5"/>
</g>
<rect x="445.6" y="81.7" width="266" height="1.6" fill="#131313"/>
<rect x="445.6" y="119.60000000000001" width="266" height="1.6" fill="#131313"/>
<rect x="445.6" y="131.7" width="266" height="1.6" fill="#131313"/>
<rect x="445.6" y="143.29999999999998" width="266" height="1.6" fill="#2a3140"/>
<rect x="445.6" y="181.6" width="266" height="1.6" fill="#2a3140"/>
<line x1="445.6" y1="82.6" x2="497.3" y2="182.3" stroke="#2a3140" stroke-width="1.5"/>
<text x="652.2" y="77.1" font-size="10.5" fill="#3a3a3a" stroke="#3a3a3a" stroke-width="0.3" textLength="54.1" lengthAdjust="spacingAndGlyphs">100.00% (81.78)</text>
<text x="655.7" y="115.0" font-size="10.5" fill="#3a3a3a" stroke="#3a3a3a" stroke-width="0.3" textLength="50.6" lengthAdjust="spacingAndGlyphs">61.80% (80.19)</text>
<text x="655.7" y="127.1" font-size="10.5" fill="#3a3a3a" stroke="#3a3a3a" stroke-width="0.3" textLength="50.6" lengthAdjust="spacingAndGlyphs">50.00% (79.70)</text>
<text x="655.7" y="138.7" font-size="10.5" fill="#3a3a3a" stroke="#3a3a3a" stroke-width="0.3" textLength="50.6" lengthAdjust="spacingAndGlyphs">38.20% (79.21)</text>
<text x="660" y="177.0" font-size="10.5" fill="#3a3a3a" stroke="#3a3a3a" stroke-width="0.3" textLength="46.3" lengthAdjust="spacingAndGlyphs">0.00% (77.63)</text>
<g clip-path="url(#cs)">
<path d="M0 288.4 C1.57 288.57 6.43 289.47 9.4 289.4 C12.37 289.33 15.88 287.82 17.8 288 C19.72 288.18 19.85 288.7 20.9 290.5 C21.95 292.3 23.05 293.58 24.1 298.8 C25.15 304.02 26.17 313.77 27.2 321.8 C28.23 329.83 29.25 340.72 30.3 347 C31.35 353.28 32.45 357.25 33.5 359.5 C34.55 361.75 35.57 361.37 36.6 360.5 C37.63 359.63 38.48 355.52 39.7 354.3 C40.92 353.08 42.5 353.03 43.9 353.2 C45.3 353.37 46.7 355.47 48.1 355.3 C49.5 355.13 50.9 354.63 52.3 352.2 C53.7 349.77 55.1 345.77 56.5 340.7 C57.9 335.63 59.3 328.08 60.7 321.8 C62.1 315.52 63.17 308.05 64.9 303 C66.63 297.95 69.37 292.55 71.1 291.5 C72.83 290.45 73.9 291.3 75.3 296.7 C76.7 302.1 78.1 319.53 79.5 323.9 C80.9 328.27 82.3 323.6 83.7 322.9 C85.1 322.2 86.85 320.7 87.9 319.7 C88.95 318.7 88.67 317.73 90 316.9 C91.33 316.07 94.43 315.57 95.9 314.7 C97.37 313.83 97.83 314.03 98.8 311.7 C99.77 309.37 100.72 302.28 101.7 300.7 C102.68 299.12 103.72 302.43 104.7 302.2 C105.68 301.97 106.63 299.67 107.6 299.3 C108.57 298.93 109.65 300.5 110.5 300 C111.35 299.5 111.83 296.78 112.7 296.3 C113.57 295.82 114.72 297.58 115.7 297.1 C116.68 296.62 117.63 295.12 118.6 293.4 C119.57 291.68 120.65 288.2 121.5 286.8 C122.35 285.4 122.83 284.88 123.7 285 C124.57 285.12 125.72 286.77 126.7 287.5 C127.68 288.23 128.63 289.03 129.6 289.4 C130.57 289.77 131.28 288.92 132.5 289.7 C133.72 290.48 135.43 293.73 136.9 294.1 C138.37 294.47 139.95 292.58 141.3 291.9 C142.65 291.22 143.53 288.65 145 290 C146.47 291.35 148.52 297.85 150.1 300 C151.68 302.15 152.92 301.07 154.5 302.9 C156.08 304.73 158.38 309.53 159.6 311 C160.82 312.47 160.57 313.53 161.8 311.7 C163.03 309.87 165.4 300.73 167 300 C168.6 299.27 170.07 304.73 171.4 307.3 C172.73 309.87 173.67 314.42 175 315.4 C176.33 316.38 178.05 313.77 179.4 313.2 C180.75 312.63 181.87 312.12 183.1 312 C184.33 311.88 185.7 312.92 186.8 312.5 C187.9 312.08 188.6 312.8 189.7 309.5 C190.8 306.2 191.68 295.63 193.4 292.7 C195.12 289.77 198.13 292.9 200 291.9 C201.87 290.9 203.13 287.22 204.6 286.7 C206.07 286.18 207.4 287.82 208.8 288.8 C210.2 289.78 211.43 290.75 213 292.6 C214.57 294.45 216.8 298.68 218.2 299.9 C219.6 301.12 220.17 301.65 221.4 299.9 C222.63 298.15 224.38 291.85 225.6 289.4 C226.82 286.95 227.67 285.02 228.7 285.2 C229.73 285.38 230.75 286.48 231.8 290.5 C232.85 294.52 233.95 302.33 235 309.3 C236.05 316.27 237.23 325.68 238.1 332.3 C238.97 338.92 239.5 345.87 240.2 349 C240.9 352.13 241.43 351.27 242.3 351.1 C243.17 350.93 244.18 349.38 245.4 348 C246.62 346.62 248.2 346.82 249.6 342.8 C251 338.78 252.4 330.88 253.8 323.9 C255.2 316.92 256.43 305.78 258 300.9 C259.57 296.02 261.28 296.52 263.2 294.6 C265.12 292.68 267.75 290.27 269.5 289.4 C271.25 288.53 272.13 288.87 273.7 289.4 C275.27 289.93 277.33 290.85 278.9 292.6 C280.47 294.35 281.88 297.82 283.1 299.9 C284.32 301.98 285.37 304.05 286.2 305.1 C287.03 306.15 287.25 304.98 288.1 306.2 C288.95 307.42 290.25 308.75 291.3 312.4 C292.35 316.05 293.53 322.35 294.4 328.1 C295.27 333.85 295.63 343.23 296.5 346.9 C297.37 350.57 298.55 352.53 299.6 350.1 C300.65 347.67 301.75 340.15 302.8 332.3 C303.85 324.45 305.03 309.28 305.9 303 C306.77 296.72 307.13 296.07 308 294.6 C308.87 293.13 309.7 295.23 311.1 294.2 C312.5 293.17 314.82 289.2 316.4 288.4 C317.98 287.6 319.38 288.88 320.6 289.4 C321.82 289.92 322.48 291.85 323.7 291.5 C324.92 291.15 326.5 287.65 327.9 287.3 C329.3 286.95 330.88 287.3 332.1 289.4 C333.32 291.5 334.17 296.23 335.2 299.9 C336.23 303.57 337.25 306.7 338.3 311.4 C339.35 316.1 340.45 322.87 341.5 328.1 C342.55 333.33 343.55 338.78 344.6 342.8 C345.65 346.82 346.75 352.9 347.8 352.2 C348.85 351.5 349.52 342.08 350.9 338.6 C352.28 335.12 354.53 330.25 356.1 331.3 C357.67 332.35 358.9 342.3 360.3 344.9 C361.7 347.5 363.28 347.95 364.5 346.9 C365.72 345.85 366.55 339.82 367.6 338.6 C368.65 337.38 369.75 340.65 370.8 339.6 C371.85 338.55 372.87 333 373.9 332.3 C374.93 331.6 375.78 331.92 377 335.4 C378.22 338.88 380.07 349.02 381.2 353.2 C382.33 357.38 382.78 360.32 383.8 360.5 C384.82 360.68 386.18 355.87 387.3 354.3 C388.42 352.73 389.1 351.45 390.5 351.1 C391.9 350.75 393.97 351.85 395.7 352.2 C397.43 352.55 399.33 352.5 400.9 353.2 C402.47 353.9 403.7 355.87 405.1 356.4 C406.5 356.93 408.08 357.63 409.3 356.4 C410.52 355.17 411.35 352.32 412.4 349 C413.45 345.68 414.55 339.63 415.6 336.5 C416.65 333.37 417.67 333.17 418.7 330.2 C419.73 327.23 420.75 321.67 421.8 318.7 C422.85 315.73 423.77 313.27 425 312.4 C426.23 311.53 427.98 314.37 429.2 313.5 C430.42 312.63 431.37 309.82 432.3 307.2 C433.23 304.58 433.82 301 434.8 297.8 C435.78 294.6 437.05 289.22 438.2 288 C439.35 286.78 440.42 288.7 441.7 290.5 C442.98 292.3 444.68 294.62 445.9 298.8 C447.12 302.98 447.95 310.02 449 315.6 C450.05 321.18 451.15 327.42 452.2 332.3 C453.25 337.18 454.08 341.77 455.3 344.9 C456.52 348.03 458.02 350.42 459.5 351.1 C460.98 351.78 462.9 349 464.2 349 C465.5 349 466.25 350.12 467.3 351.1 C468.35 352.08 469.28 354.37 470.5 354.9 C471.72 355.43 473.22 354.23 474.6 354.3 C475.98 354.37 477.4 356.7 478.8 355.3 C480.2 353.9 481.6 348.33 483 345.9 C484.4 343.47 485.98 342.1 487.2 340.7 C488.42 339.3 489.43 339.42 490.3 337.5 C491.17 335.58 491.35 331.12 492.4 329.2 C493.45 327.28 495.38 326 496.6 326 C497.82 326 498.83 329.9 499.7 329.2 C500.57 328.5 500.92 325.47 501.8 321.8 C502.68 318.13 503.88 312.15 505 307.2 C506.12 302.25 507.45 294.62 508.5 292.1 C509.55 289.58 510.32 290.63 511.3 292.1 C512.28 293.57 513.18 298.8 514.4 300.9 C515.62 303 517.2 305.22 518.6 304.7 C520 304.18 521.33 300.35 522.8 297.8 C524.27 295.25 526.02 290.27 527.4 289.4 C528.78 288.53 529.95 290.85 531.1 292.6 C532.25 294.35 533.42 297.63 534.3 299.9 C535.18 302.17 535.7 304.82 536.4 306.2 C537.1 307.58 538.15 307.87 538.5 308.2" stroke="#3d8ff0" stroke-width="1.7" fill="none" stroke-linejoin="round" stroke-linecap="round"/>
<path d="M0 288.8 C2.78 288.8 13.03 288.35 16.7 288.8 C20.37 289.25 20.6 290.18 22 291.5 C23.4 292.82 23.88 291.65 25.1 296.7 C26.32 301.75 27.9 313.08 29.3 321.8 C30.7 330.52 32.1 342.88 33.5 349 C34.9 355.12 36.32 357.27 37.7 358.5 C39.08 359.73 40.07 357.22 41.8 356.4 C43.53 355.58 46.18 354.48 48.1 353.6 C50.02 352.72 51.55 353.6 53.3 351.1 C55.05 348.6 56.67 344.52 58.6 338.6 C60.53 332.68 62.63 322.75 64.9 315.6 C67.17 308.45 70.47 298.85 72.2 295.7 C73.93 292.55 74.08 295.13 75.3 296.7 C76.52 298.27 78.1 301.43 79.5 305.1 C80.9 308.77 82.3 315.73 83.7 318.7 C85.1 321.67 86.85 322.6 87.9 322.9 C88.95 323.2 88.92 321.5 90 320.5 C91.08 319.5 92.93 318 94.4 316.9 C95.87 315.8 97.33 315.62 98.8 313.9 C100.27 312.18 101.73 308.72 103.2 306.6 C104.67 304.48 106.38 302.18 107.6 301.2 C108.82 300.22 109.4 301.27 110.5 300.7 C111.6 300.13 112.73 298.77 114.2 297.8 C115.67 296.83 117.58 296.68 119.3 294.9 C121.02 293.12 122.53 288.15 124.5 287.1 C126.47 286.05 129.03 287.8 131.1 288.6 C133.17 289.4 135.32 291.17 136.9 291.9 C138.48 292.63 139 293.07 140.6 293 C142.2 292.93 144.67 290.82 146.5 291.5 C148.33 292.18 149.78 294.95 151.6 297.1 C153.42 299.25 155.45 302.2 157.4 304.4 C159.35 306.6 161.1 310.3 163.3 310.3 C165.5 310.3 168.65 304.53 170.6 304.4 C172.55 304.27 173.4 307.92 175 309.5 C176.6 311.08 178.48 313.4 180.2 313.9 C181.92 314.4 183.72 313.1 185.3 312.5 C186.88 311.9 187.98 313.12 189.7 310.3 C191.42 307.48 193.88 298.53 195.6 295.6 C197.32 292.67 198.83 293.2 200 292.7 C201.17 292.2 200.95 293.38 202.6 292.6 C204.25 291.82 207.98 288.18 209.9 288 C211.82 287.82 212.72 290.05 214.1 291.5 C215.48 292.95 216.82 295.55 218.2 296.7 C219.58 297.85 221 299.27 222.4 298.4 C223.8 297.53 225.2 293.23 226.6 291.5 C228 289.77 229.58 287.48 230.8 288 C232.02 288.52 232.85 290.35 233.9 294.6 C234.95 298.85 235.87 305.82 237.1 313.5 C238.33 321.18 239.92 334.6 241.3 340.7 C242.68 346.8 244.02 349.07 245.4 350.1 C246.78 351.13 248.2 349.52 249.6 346.9 C251 344.28 252.4 339.45 253.8 334.4 C255.2 329.35 256.6 322.53 258 316.6 C259.4 310.67 260.63 302.63 262.2 298.8 C263.77 294.97 265.48 295.17 267.4 293.6 C269.32 292.03 271.6 289.75 273.7 289.4 C275.8 289.05 278.08 290.1 280 291.5 C281.92 292.9 283.85 295.88 285.2 297.8 C286.55 299.72 286.92 301.08 288.1 303 C289.28 304.92 290.9 305.82 292.3 309.3 C293.7 312.78 295.28 318.32 296.5 323.9 C297.72 329.48 298.55 339.48 299.6 342.8 C300.65 346.12 301.75 347.3 302.8 343.8 C303.85 340.3 304.85 328.95 305.9 321.8 C306.95 314.65 307.88 305.6 309.1 300.9 C310.32 296.2 311.47 295.62 313.2 293.6 C314.93 291.58 317.4 289.5 319.5 288.8 C321.6 288.1 323.7 289.4 325.8 289.4 C327.9 289.4 330.35 287.58 332.1 288.8 C333.85 290.02 334.92 292.58 336.3 296.7 C337.68 300.82 339.02 307.57 340.4 313.5 C341.78 319.43 343.2 326.55 344.6 332.3 C346 338.05 347.58 345.9 348.8 348 C350.02 350.1 350.68 347.17 351.9 344.9 C353.12 342.63 354.7 335.28 356.1 334.4 C357.5 333.52 358.9 337.68 360.3 339.6 C361.7 341.52 362.93 345.55 364.5 345.9 C366.07 346.25 367.95 343.45 369.7 341.7 C371.45 339.95 373.6 336.45 375 335.4 C376.4 334.35 376.88 333.48 378.1 335.4 C379.32 337.32 380.77 343.4 382.3 346.9 C383.83 350.4 385.77 355.42 387.3 356.4 C388.83 357.38 389.93 353.5 391.5 352.8 C393.07 352.1 395.13 352.13 396.7 352.2 C398.27 352.27 398.98 352.5 400.9 353.2 C402.82 353.9 406.28 356.57 408.2 356.4 C410.12 356.23 411 354.47 412.4 352.2 C413.8 349.93 415.2 346.47 416.6 342.8 C418 339.13 419.4 334.38 420.8 330.2 C422.2 326.02 423.6 320.48 425 317.7 C426.4 314.92 427.82 315.25 429.2 313.5 C430.58 311.75 432.08 309.82 433.3 307.2 C434.52 304.58 435.27 300.42 436.5 297.8 C437.73 295.18 439.48 292.55 440.7 291.5 C441.92 290.45 442.77 290.45 443.8 291.5 C444.83 292.55 445.68 293.78 446.9 297.8 C448.12 301.82 449.7 309.5 451.1 315.6 C452.5 321.7 453.9 329.18 455.3 334.4 C456.7 339.62 458.1 344.47 459.5 346.9 C460.9 349.33 462.13 348.3 463.7 349 C465.27 349.7 467.17 350.33 468.9 351.1 C470.63 351.87 472.45 353.07 474.1 353.6 C475.75 354.13 477.32 354.88 478.8 354.3 C480.28 353.72 481.43 352.02 483 350.1 C484.57 348.18 486.45 345.42 488.2 342.8 C489.95 340.18 491.92 336.92 493.5 334.4 C495.08 331.88 496.32 329.27 497.7 327.7 C499.08 326.13 500.42 327.37 501.8 325 C503.18 322.63 504.6 317.87 506 313.5 C507.4 309.13 508.98 301.95 510.2 298.8 C511.42 295.65 512.25 294.6 513.3 294.6 C514.35 294.6 515.27 297.47 516.5 298.8 C517.73 300.13 519.3 302.42 520.7 302.6 C522.1 302.78 523.52 301.5 524.9 299.9 C526.28 298.3 527.62 293.88 529 293 C530.38 292.12 531.97 293.45 533.2 294.6 C534.43 295.75 535.52 298.15 536.4 299.9 C537.28 301.65 538.15 304.23 538.5 305.1" stroke="#e3136f" stroke-width="1.7" fill="none" stroke-linejoin="round" stroke-linecap="round"/>
</g>
<rect x="711" y="3" width="1.1" height="395" fill="#bdbdbd"/>
<rect x="712.1" y="3" width="0.9" height="395" fill="#e3e3e3"/>
<rect x="0" y="368.9" width="750" height="1" fill="#999"/>
<text x="717.4" y="33.2" font-size="12.8" fill="#4a4a4a" stroke="#4a4a4a" stroke-width="0.3" textLength="22.3" lengthAdjust="spacingAndGlyphs">84.00</text>
<text x="717.4" y="81.5" font-size="12.8" fill="#4a4a4a" stroke="#4a4a4a" stroke-width="0.3" textLength="22.3" lengthAdjust="spacingAndGlyphs">82.00</text>
<text x="717.4" y="177.9" font-size="12.8" fill="#4a4a4a" stroke="#4a4a4a" stroke-width="0.3" textLength="22.3" lengthAdjust="spacingAndGlyphs">78.00</text>
<text x="717.4" y="226.6" font-size="12.8" fill="#4a4a4a" stroke="#4a4a4a" stroke-width="0.3" textLength="22.3" lengthAdjust="spacingAndGlyphs">76.00</text>
<text x="717.4" y="274.4" font-size="12.8" fill="#4a4a4a" stroke="#4a4a4a" stroke-width="0.3" textLength="22.3" lengthAdjust="spacingAndGlyphs">74.00</text>
<text x="717.4" y="303.4" font-size="12.8" fill="#4a4a4a" stroke="#4a4a4a" stroke-width="0.3" textLength="22.3" lengthAdjust="spacingAndGlyphs">80.00</text>
<text x="717.4" y="336.3" font-size="12.8" fill="#4a4a4a" stroke="#4a4a4a" stroke-width="0.3" textLength="22.3" lengthAdjust="spacingAndGlyphs">40.00</text>
<text x="717.4" y="367.8" font-size="12.8" fill="#4a4a4a" stroke="#4a4a4a" stroke-width="0.3" textLength="17.6" lengthAdjust="spacingAndGlyphs">0.00</text>
<path d="M711.5 115H741.6Q743.6 115 743.6 117V131.4Q743.6 133.4 741.6 133.4H711.5Z" fill="#36bf22"/>
<text x="717.8" y="128.9" font-size="12.6" fill="#fff" stroke="#fff" stroke-width="0.3" textLength="21.6" lengthAdjust="spacingAndGlyphs">80.04</text>
<text x="29.8" y="387.9" font-size="12.4" fill="#4a4a4a" stroke="#4a4a4a" stroke-width="0.3" textLength="8.3" lengthAdjust="spacingAndGlyphs">17</text>
<text x="110.9" y="387.9" font-size="12.4" fill="#4a4a4a" stroke="#4a4a4a" stroke-width="0.3" textLength="9.0" lengthAdjust="spacingAndGlyphs">24</text>
<text x="205.1" y="387.9" font-size="12.4" fill="#4a4a4a" stroke="#4a4a4a" stroke-width="0.3" textLength="15.6" lengthAdjust="spacingAndGlyphs">Aug</text>
<text x="275.7" y="387.9" font-size="12.4" fill="#4a4a4a" stroke="#4a4a4a" stroke-width="0.3" textLength="4.5" lengthAdjust="spacingAndGlyphs">7</text>
<text x="354.7" y="387.9" font-size="12.4" fill="#4a4a4a" stroke="#4a4a4a" stroke-width="0.3" textLength="9.2" lengthAdjust="spacingAndGlyphs">14</text>
<text x="435.7" y="387.9" font-size="12.4" fill="#4a4a4a" stroke="#4a4a4a" stroke-width="0.3" textLength="9.2" lengthAdjust="spacingAndGlyphs">21</text>
<text x="517" y="387.9" font-size="12.4" fill="#4a4a4a" stroke="#4a4a4a" stroke-width="0.3" textLength="9.5" lengthAdjust="spacingAndGlyphs">28</text>
<text x="579.4" y="387.9" font-size="12.4" fill="#4a4a4a" stroke="#4a4a4a" stroke-width="0.3" textLength="15.1" lengthAdjust="spacingAndGlyphs">Sep</text>
<text x="679.8" y="387.9" font-size="12.4" fill="#4a4a4a" stroke="#4a4a4a" stroke-width="0.3" textLength="8.7" lengthAdjust="spacingAndGlyphs">11</text>
<text x="1" y="19.5" font-size="13.8" fill="#333" stroke="#333" stroke-width="0.2" textLength="98.5" lengthAdjust="spacingAndGlyphs">WTI Crude Oil: 4-hour</text>
<g fill="#131722"><path d="M0 409.2H4.3V417.8H1.9V411.2H0Z"/><circle cx="6.4" cy="410.9" r="1.2"/><path d="M9 409.2H11.8L9.1 417.7H6.6Z"/></g>
<text x="14.5" y="418.2" font-size="11.7" fill="#2a2e39" stroke="#2a2e39" stroke-width="0.25" textLength="44.8" lengthAdjust="spacingAndGlyphs">TradingView</text>
</svg></body></html>
